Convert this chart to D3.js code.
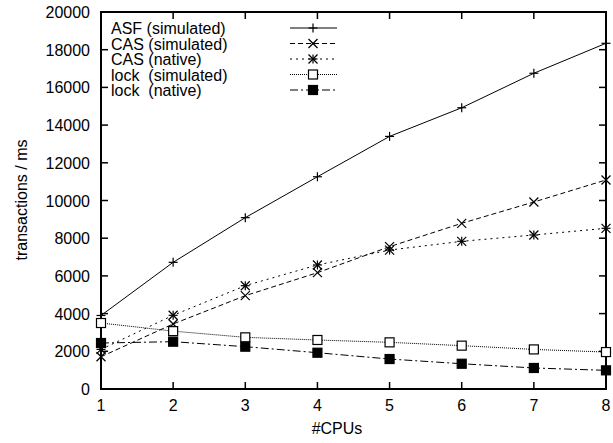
<!DOCTYPE html>
<html><head><meta charset="utf-8">
<script src="https://cdn.jsdelivr.net/npm/d3@7"></script>
<style>body{margin:0;background:#fff}text{font-family:"Liberation Sans",Arial,sans-serif;font-size:16px;fill:#000}</style>
</head><body><svg id="c" width="613" height="443"></svg>
<script>
const cpus = [1,2,3,4,5,6,7,8];
const asfSim   = [3900,6720,9090,11260,13400,14920,16750,18340];
const casSim   = [1710,3450,4950,6170,7550,8790,9920,11090];
const casNat   = [2100,3910,5480,6580,7370,7835,8170,8525];
const lockSim  = [3500,3070,2740,2600,2475,2300,2100,1960];
const lockNat  = [2440,2510,2245,1925,1590,1340,1115,990];
const seriesNames = ["ASF (simulated)","CAS (simulated)","CAS (native)","lock  (simulated)","lock  (native)"];
const yTicks = [0,2000,4000,6000,8000,10000,12000,14000,16000,18000,20000];

const series = [
  {name:seriesNames[0], v:asfSim, dash:null, m:"plus"},
  {name:seriesNames[1], v:casSim, dash:"5,3", m:"cross"},
  {name:seriesNames[2], v:casNat, dash:"2,4", m:"star"},
  {name:seriesNames[3], v:lockSim, dash:"1,1", m:"box"},
  {name:seriesNames[4], v:lockNat, dash:"8,3,2,3", m:"fbox"}
];

const L=101,R=606,T=12,B=389;
const svg=d3.select("#c");
const x=d3.scaleLinear().domain([1,8]).range([L,R]);
const y=d3.scaleLinear().domain([0,20000]).range([B,T]);

// ticks (inward, mirrored)
const tl=7;
const g=svg.append("g").attr("stroke","#000").attr("stroke-width",1.5);
yTicks.forEach(t=>{
  g.append("line").attr("x1",L).attr("x2",L+tl).attr("y1",y(t)).attr("y2",y(t));
  g.append("line").attr("x1",R).attr("x2",R-tl).attr("y1",y(t)).attr("y2",y(t));
});
cpus.forEach(t=>{
  g.append("line").attr("x1",x(t)).attr("x2",x(t)).attr("y1",B).attr("y2",B-tl);
  g.append("line").attr("x1",x(t)).attr("x2",x(t)).attr("y1",T).attr("y2",T+tl);
});
svg.append("rect").attr("x",L).attr("y",T).attr("width",R-L).attr("height",B-T)
  .attr("fill","none").attr("stroke","#000").attr("stroke-width",2);

yTicks.forEach(t=>svg.append("text").attr("x",90).attr("y",y(t)+6).attr("text-anchor","end").text(t));
cpus.forEach(t=>svg.append("text").attr("x",x(t)).attr("y",411).attr("text-anchor","middle").text(t));
svg.append("text").attr("x",337).attr("y",434).attr("text-anchor","middle").text("#CPUs");
svg.append("text").attr("transform","translate(27,200) rotate(-90)").attr("text-anchor","middle").text("transactions / ms");

function marker(sel,type,cx,cy){
  const s=4.5;
  const gg=sel.append("g").attr("stroke","#000").attr("stroke-width",1.2);
  if(type==="plus"||type==="star"){
    gg.append("line").attr("x1",cx-s).attr("x2",cx+s).attr("y1",cy).attr("y2",cy);
    gg.append("line").attr("x1",cx).attr("x2",cx).attr("y1",cy-s).attr("y2",cy+s);
  }
  if(type==="cross"||type==="star"){
    gg.append("line").attr("x1",cx-s).attr("x2",cx+s).attr("y1",cy-s).attr("y2",cy+s);
    gg.append("line").attr("x1",cx-s).attr("x2",cx+s).attr("y1",cy+s).attr("y2",cy-s);
  }
  if(type==="box"){
    gg.append("rect").attr("x",cx-s).attr("y",cy-s).attr("width",2*s).attr("height",2*s).attr("fill","#fff");
  }
  if(type==="fbox"){
    gg.append("rect").attr("x",cx-s).attr("y",cy-s).attr("width",2*s).attr("height",2*s).attr("fill","#000");
  }
}

const line=d3.line().x((d,i)=>x(cpus[i])).y(d=>y(d));
const clip=svg.append("clipPath").attr("id","cp").append("rect").attr("x",L).attr("y",T).attr("width",R-L).attr("height",B-T);
series.forEach(s=>{
  svg.append("path").attr("d",line(s.v)).attr("fill","none").attr("stroke","#000").attr("stroke-width",1)
    .attr("stroke-dasharray",s.dash);
  const mg=svg.append("g");
  s.v.forEach((v,i)=>marker(mg,s.m,x(cpus[i]),y(v)));
});

// legend
series.forEach((s,i)=>{
  const yy=28+i*15.5;
  svg.append("text").attr("x",111).attr("y",yy+6).attr("xml:space","preserve").style("white-space","pre").text(s.name);
  svg.append("line").attr("x1",290).attr("x2",337).attr("y1",yy).attr("y2",yy).attr("stroke","#000").attr("stroke-width",1).attr("stroke-dasharray",s.dash);
  marker(svg,s.m,313,yy);
});
</script></body></html>
